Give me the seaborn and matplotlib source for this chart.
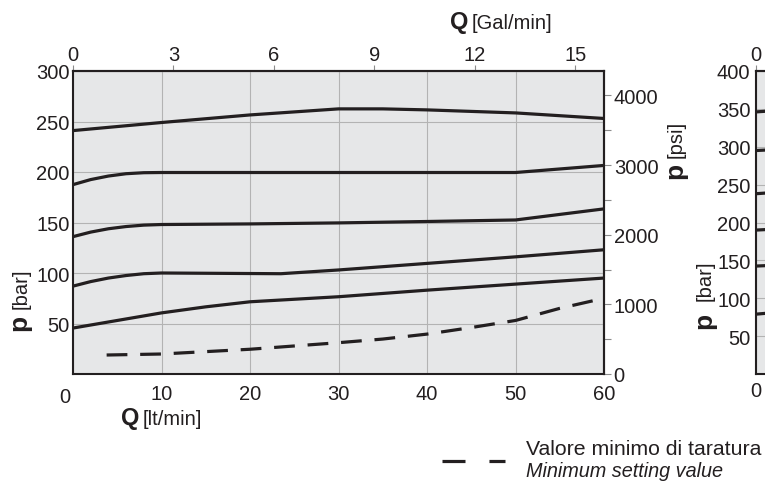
import matplotlib
matplotlib.use("Agg")
import matplotlib.pyplot as plt
from matplotlib.lines import Line2D
from matplotlib.ticker import MultipleLocator
import numpy as np
import pandas as pd
import seaborn as sns

# ---- data: flow Q [lt/min] vs pressure p [bar] -------------------------
q_c1 = [0, 10, 20, 30, 35, 40, 50, 60]
p_c1 = [241, 249, 256.5, 262.5, 262.5, 261.5, 258.5, 253]

q_c2 = [0, 2, 4, 6, 8, 10, 30, 50, 60]
p_c2 = [187.5, 192.5, 196, 198.3, 199.3, 199.5, 199.5, 199.5, 206.5]

q_c3 = [0, 2, 4, 6, 8, 10, 20, 30, 40, 50, 60]
p_c3 = [136, 140.5, 143.8, 146, 147.4, 148, 148.6, 149.6, 151, 152.5, 163.5]

q_c4 = [0, 2, 4, 6, 8, 10, 23.5, 30, 40, 50, 60]
p_c4 = [87, 91.5, 95, 97.5, 99.3, 100, 99.3, 103, 109.5, 116, 123]

q_c5 = [0, 5, 10, 15, 20, 30, 40, 50, 60]
p_c5 = [45.5, 53, 60.5, 66.5, 71.5, 76.5, 83, 89, 95]

# minimum setting value (dashed)
q_min = [3.8, 10, 20, 30, 35, 40, 45, 50, 55, 60]
p_min = [18.8, 19.8, 24.5, 31, 34.6, 39.5, 46, 53, 65, 75]

# second (larger range) valve, only its left edge fits in the frame
q_b = [0, 5]
p_b1 = [346, 350]
p_b2 = [295, 298]
p_b3 = [238, 242]
p_b4 = [190, 193]
p_b5 = [142.5, 145]
p_b6 = [79, 84]

x_ticks = [0, 10, 20, 30, 40, 50, 60]
y_ticks = [0, 50, 100, 150, 200, 250, 300]
y_ticks_b = [0, 50, 100, 150, 200, 250, 300, 350, 400]
gal_ticks = [0, 3, 6, 9, 12, 15]
psi_ticks = [0, 1000, 2000, 3000, 4000]

LT_PER_GAL = 3.785
PSI_PER_BAR = 14.5038

INK = "#231f20"
PANEL = "#e6e7e8"
GRID = "#b3b3b3"
TICK = "#8c8c8c"

sns.set_theme(style="white")
plt.rcParams["font.family"] = ["Liberation Sans", "DejaVu Sans"]
plt.rcParams["text.color"] = INK

W, H = 765, 485
fig = plt.figure(figsize=(W / 100, H / 100), dpi=100)


def fx(x):
    return x / W


def fy(y):
    return 1 - y / H


def long_frame(q, curves):
    return pd.concat(
        [pd.DataFrame({"Q": q, "p": p, "curve": name}) for name, p in curves.items()],
        ignore_index=True,
    )


def style_panel(a, ylim, xt, yt):
    a.set_facecolor(PANEL)
    a.set_xlim(0, 60)
    a.set_ylim(*ylim)
    a.set_xticks(xt)
    a.set_yticks(yt)
    a.grid(True, color=GRID, lw=0.8)
    a.set_axisbelow(True)
    for s in a.spines.values():
        s.set_color(INK)
        s.set_linewidth(1.5)
    a.set_xlabel("")
    a.set_ylabel("")


# ---- main chart ----------------------------------------------------------
ax = fig.add_axes([fx(73), fy(375), 531 / W, 303 / H])
solid = pd.concat([
    long_frame(q_c1, {"c1": p_c1}),
    long_frame(q_c2, {"c2": p_c2}),
    long_frame(q_c3, {"c3": p_c3}),
    long_frame(q_c4, {"c4": p_c4}),
    long_frame(q_c5, {"c5": p_c5}),
], ignore_index=True)
sns.lineplot(data=solid, x="Q", y="p", units="curve", estimator=None, sort=False,
             color=INK, lw=2.3, ax=ax, legend=False)
sns.lineplot(x=q_min, y=p_min, color=INK, lw=2.3, ax=ax, sort=False,
             linestyle=(0, (6.5, 4)), legend=False)
style_panel(ax, (0, 300), x_ticks, y_ticks)
ax.set_xticklabels([""] + [str(v) for v in x_ticks[1:]])
ax.set_yticklabels([""] + [str(v) for v in y_ticks[1:]])
ax.tick_params(axis="x", length=0, pad=7, labelsize=14.5, labelcolor=INK)
ax.tick_params(axis="y", length=0, pad=2.5, labelsize=14.5, labelcolor=INK)
ax.annotate("0", xy=(0, 0), xycoords="data", xytext=(-8, -13),
            textcoords="offset pixels", ha="center", va="top", fontsize=14.5, color=INK)

top = ax.secondary_xaxis("top", functions=(lambda q: q / LT_PER_GAL, lambda g: g * LT_PER_GAL))
top.set_xticks(gal_ticks)
top.tick_params(length=4.5, width=0.8, color=TICK, pad=0.5, labelsize=14.5, labelcolor=INK)
top.spines["top"].set_linewidth(1.5)
top.spines["top"].set_color(INK)

right = ax.secondary_yaxis("right", functions=(lambda p: p * PSI_PER_BAR, lambda s: s / PSI_PER_BAR))
right.set_yticks(psi_ticks)
right.yaxis.set_minor_locator(MultipleLocator(500))
right.tick_params(which="both", length=5, width=0.8, color=TICK, pad=2, labelsize=14.5, labelcolor=INK)
right.spines["right"].set_linewidth(1.5)
right.spines["right"].set_color(INK)

# ---- second chart (cut by the right edge) --------------------------------
ax2 = fig.add_axes([fx(756), fy(375), 531 / W, 303 / H])
sec = long_frame(q_b, {"b1": p_b1, "b2": p_b2, "b3": p_b3,
                       "b4": p_b4, "b5": p_b5, "b6": p_b6})
sns.lineplot(data=sec, x="Q", y="p", units="curve", estimator=None, sort=False,
             color=INK, lw=2.3, ax=ax2, legend=False)
# only the origin column lies inside the frame
style_panel(ax2, (0, 400), x_ticks[:1], y_ticks_b)
ax2.set_yticklabels([""] + [str(v) for v in y_ticks_b[1:]])
ax2.tick_params(axis="x", length=0, pad=5, labelsize=14.5, labelcolor=INK)
ax2.tick_params(axis="y", length=3, width=0.8, color=TICK, pad=1, labelsize=14.5, labelcolor=INK)
top2 = ax2.secondary_xaxis("top", functions=(lambda q: q / LT_PER_GAL, lambda g: g * LT_PER_GAL))
top2.set_xticks(gal_ticks[:1])
top2.tick_params(length=4.5, width=0.8, color=TICK, pad=0.5, labelsize=14.5, labelcolor=INK)
top2.spines["top"].set_linewidth(1.5)

# ---- axis titles ---------------------------------------------------------
BOLD = dict(fontsize=19, fontweight="bold", color=INK)
UNIT = dict(fontsize=14.5, color=INK)

fig.text(fx(139), fy(425), "Q", ha="right", va="baseline", fontsize=17, fontweight="bold", color=INK)
fig.text(fx(143), fy(425), "[lt/min]", ha="left", va="baseline", **UNIT)

fig.text(fx(468), fy(29), "Q", ha="right", va="baseline", fontsize=17, fontweight="bold", color=INK)
fig.text(fx(472), fy(29), "[Gal/min]", ha="left", va="baseline", **UNIT)


def vertical_title(xb, y_p, y_unit, unit):
    fig.text(fx(xb), fy(y_p), "p", rotation=90, rotation_mode="anchor",
             ha="left", va="baseline", **BOLD)
    fig.text(fx(xb), fy(y_unit), unit, rotation=90, rotation_mode="anchor",
             ha="left", va="baseline", **UNIT)


vertical_title(26.5, 331, 309, "[bar]")
vertical_title(682, 179, 158, "[psi]")
vertical_title(711, 329, 301, "[bar]")

# ---- key for the dashed curve --------------------------------------------
fig.add_artist(Line2D([fx(442), fx(505)], [fy(462), fy(462)], color=INK, lw=2.3,
                      dashes=(7.2, 7.5), transform=fig.transFigure))
fig.text(fx(526), fy(455), "Valore minimo di taratura", ha="left", va="baseline",
         fontsize=15.3, color=INK)
fig.text(fx(526), fy(477), "Minimum setting value", ha="left", va="baseline",
         fontsize=14.3, fontstyle="italic", color=INK)

fig.savefig("out.png", dpi=100)
